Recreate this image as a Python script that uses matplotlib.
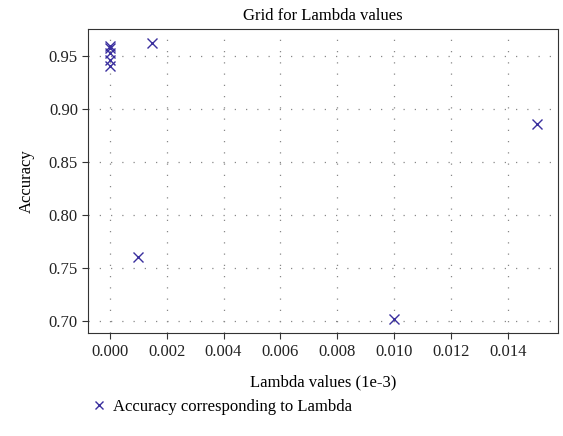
import matplotlib

matplotlib.use("Agg")

import matplotlib.pyplot as plt

# lambda values and the accuracy reached with each
lambdas = [0.0, 0.000001, 0.000002, 0.000005, 0.00001, 0.001, 0.0015, 0.01, 0.015]
accuracy = [0.960, 0.958, 0.953, 0.947, 0.941, 0.761, 0.963, 0.702, 0.886]

plt.rcParams["font.family"] = ["Liberation Serif", "DejaVu Serif"]
plt.rcParams["font.size"] = 12

fig = plt.figure(figsize=(5.63, 4.36), dpi=100)
ax = fig.add_axes([0.157, 0.236, 0.834, 0.698])

ax.plot(lambdas, accuracy, linestyle="none", marker="x", markersize=7,
        markeredgewidth=1.0, color="#3a2f9e", label="Accuracy corresponding to Lambda")

ax.set_title("Grid for Lambda values", fontsize=12)
ax.set_xlabel("Lambda values (1e-3)", labelpad=11)
ax.set_ylabel("Accuracy", labelpad=10)
ax.set_xticks([0.000, 0.002, 0.004, 0.006, 0.008, 0.010, 0.012, 0.014])
ax.xaxis.set_major_formatter(matplotlib.ticker.FormatStrFormatter("%.3f"))
ax.yaxis.set_major_formatter(matplotlib.ticker.FormatStrFormatter("%.2f"))
ax.tick_params(direction="out", length=4, color="#333333", labelcolor="#222222")
ax.grid(True, color="#888888", linestyle=(0, (1, 8)), linewidth=0.9)
for s in ax.spines.values():
    s.set_color("#333333")

fig.legend(loc="lower left", bbox_to_anchor=(0.135, 0.013), frameon=False,
           handletextpad=0.3, handlelength=1.0, markerscale=0.85)

fig.savefig("out.png", dpi=100)
